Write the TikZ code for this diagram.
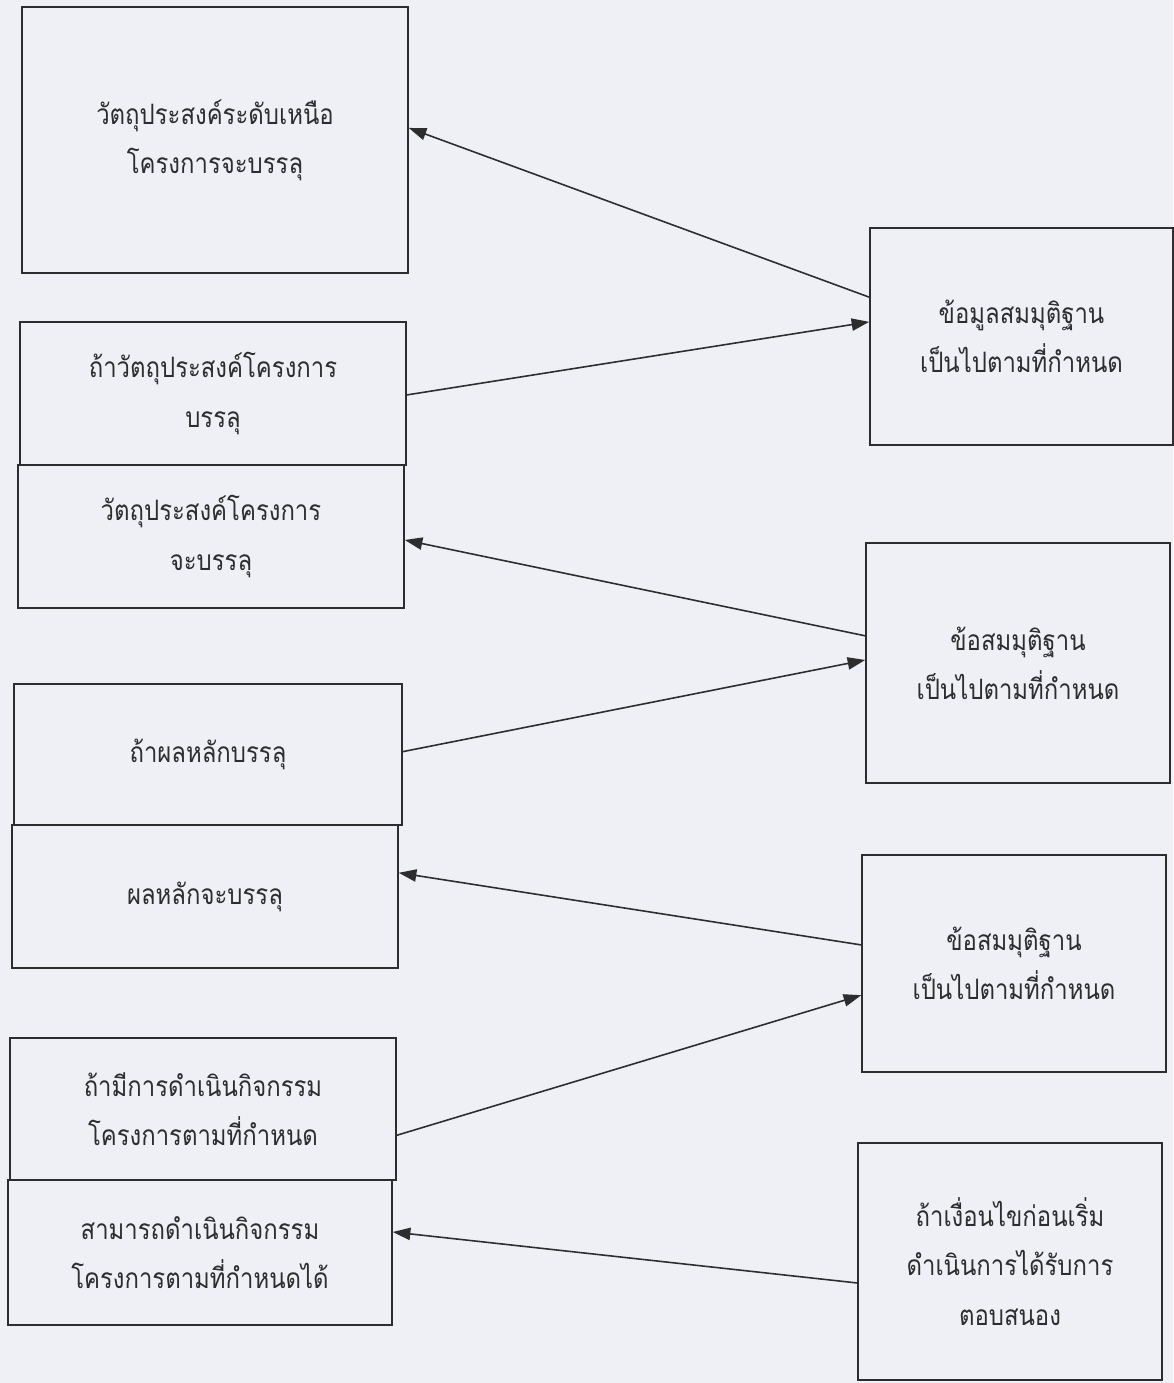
\documentclass[tikz,border=0pt]{standalone}
\usepackage{fontspec}
\newfontfamily\thaifont[Script=Thai, FakeStretch=0.85]{Loma}
\usetikzlibrary{calc,arrows.meta}
\definecolor{paper}{RGB}{238,240,245}
\definecolor{ink}{RGB}{45,45,45}

\begin{document}
\begin{tikzpicture}[x=0.02cm, y=-0.02cm,
		box/.style 2 args={draw=ink, line width=0.9pt, text=ink,
			minimum width=#1*0.02cm, minimum height=#2*0.02cm,
			inner sep=0pt, align=center,
			font=\thaifont\fontsize{16}{28}\selectfont},
		arr/.style={draw=ink, line width=0.9pt, -{Triangle[length=10pt, width=7pt]}}]
			%%%%% START %%%%%
			\fill[paper] (0, 0) rectangle (1173, 1383);
			
			% left column
			\node[box={386}{266}] (aim) at (215, 140) {วัตถุประสงค์ระดับเหนือ\\โครงการจะบรรลุ};
			\node[box={386}{143}] (ifpurp) at (213, 393.5) {ถ้าวัตถุประสงค์โครงการ\\บรรลุ};
			\node[box={386}{143}] (purp) at (211, 536.5) {วัตถุประสงค์โครงการ\\จะบรรลุ};
			\node[box={388}{141}] (ifout) at (208, 754.5) {ถ้าผลหลักบรรลุ};
			\node[box={386}{143}] (outp) at (205, 896.5) {ผลหลักจะบรรลุ};
			\node[box={386}{142}] (ifact) at (203, 1109) {ถ้ามีการดำเนินกิจกรรม\\โครงการตามที่กำหนด};
			\node[box={384}{145}] (act) at (200, 1252.5) {สามารถดำเนินกิจกรรม\\โครงการตามที่กำหนดได้};
			
			% right column
			\node[box={303}{217}] (asm1) at (1021.5, 336.5) {ข้อมูลสมมุติฐาน\\เป็นไปตามที่กำหนด};
			\node[box={304}{240}] (asm2) at (1018, 663) {ข้อสมมุติฐาน\\เป็นไปตามที่กำหนด};
			\node[box={304}{217}] (asm3) at (1014, 963.5) {ข้อสมมุติฐาน\\เป็นไปตามที่กำหนด};
			\node[box={304}{237}] (cond) at (1010, 1261.5) {ถ้าเงื่อนไขก่อนเริ่ม\\ดำเนินการได้รับการ\\ตอบสนอง};
			
			% arrows
			\draw[arr] ($(asm1.north west)!0.32!(asm1.south west)$) -- ($(aim.north east)!0.455!(aim.south east)$);
			\draw[arr] ($(ifpurp.north east)!0.51!(ifpurp.south east)$) -- ($(asm1.north west)!0.433!(asm1.south west)$);
			\draw[arr] ($(asm2.north west)!0.3875!(asm2.south west)$) -- ($(purp.north east)!0.524!(purp.south east)$);
			\draw[arr] ($(ifout.north east)!0.48!(ifout.south east)$) -- ($(asm2.north west)!0.4875!(asm2.south west)$);
			\draw[arr] ($(asm3.north west)!0.415!(asm3.south west)$) -- ($(outp.north east)!0.336!(outp.south east)$);
			\draw[arr] ($(ifact.north east)!0.683!(ifact.south east)$) -- ($(asm3.north west)!0.645!(asm3.south west)$);
			\draw[arr] ($(cond.north west)!0.59!(cond.south west)$) -- ($(act.north east)!0.36!(act.south east)$);
			%%%%% END %%%%%
\end{tikzpicture}
\end{document}
